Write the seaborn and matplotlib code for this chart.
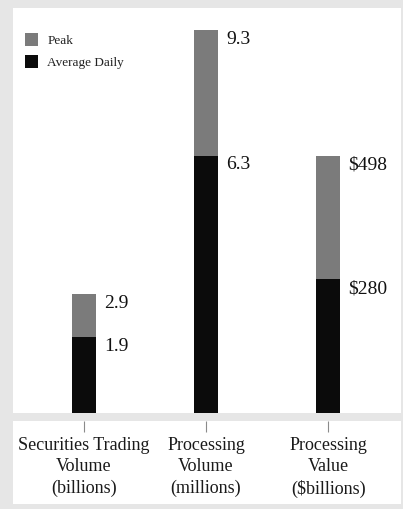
import matplotlib
matplotlib.use("Agg")
import matplotlib.pyplot as plt
import seaborn as sns
import pandas as pd

# ---- data ----
categories = ["Securities Trading\nVolume\n(billions)",
              "Processing\nVolume\n(millions)",
              "Processing\nValue\n(\\$billions)"]
peak_labels = ["2.9", "9.3", "\\$498"]
avg_labels = ["1.9", "6.3", "\\$280"]
# bar lengths on the shared drawing scale (third bar uses its own unit)
peak_height = [2.9, 9.3, 6.25]
avg_height = [1.85, 6.25, 3.25]

W, H = 403, 510
PEAK_COLOR = "#7b7b7b"
AVG_COLOR = "#0b0b0b"
BG = "#e6e6e6"
FONT = "Liberation Serif"

sns.set_theme(style="white")
plt.rcParams["font.family"] = [FONT, "DejaVu Serif"]

fig = plt.figure(figsize=(W / 100, H / 100), dpi=100, facecolor=BG)

def px_axes(x0, y0, x1, y1):
    return fig.add_axes([x0 / W, 1 - y1 / H, (x1 - x0) / W, (y1 - y0) / H])

ax = px_axes(13, 9, 401, 414)
ax.set_facecolor("white")

df = pd.DataFrame({"cat": categories, "peak": peak_height, "avg": avg_height})
bw = 0.197
sns.barplot(data=df, x="cat", y="peak", color=PEAK_COLOR, width=bw,
            saturation=1, label="Peak", ax=ax, order=categories,
            linewidth=0, edgecolor=PEAK_COLOR)
sns.barplot(data=df, x="cat", y="avg", color=AVG_COLOR, width=bw,
            saturation=1, label="Average Daily", ax=ax, order=categories,
            linewidth=0, edgecolor=AVG_COLOR)

xl = (-(83.7 - 13) / 122.0, 2 + (401 - 328.3) / 122.0)
ax.set_xlim(*xl)
ax.set_ylim(0, 405 / 41.2)
ax.set_xticks([])
ax.set_yticks([])
ax.set_xlabel("")
ax.set_ylabel("")
for s in ax.spines.values():
    s.set_visible(False)

for i in range(len(categories)):
    ax.annotate(peak_labels[i], xy=(i + bw / 2, peak_height[i]),
                xytext=(6, 0), textcoords="offset points",
                ha="left", va="top", fontsize=14, color="#111111")
    ax.annotate(avg_labels[i], xy=(i + bw / 2, avg_height[i]),
                xytext=(6, 0), textcoords="offset points",
                ha="left", va="top", fontsize=14, color="#111111")

leg = ax.legend(loc="upper left", bbox_to_anchor=(25 / W, 1 - 32 / H),
                bbox_transform=fig.transFigure, frameon=False,
                fontsize=9.5, handlelength=1.0, handleheight=1.35,
                handletextpad=0.7, labelspacing=0.55, borderpad=0,
                borderaxespad=0)
for t in leg.get_texts():
    t.set_color("#222222")
for p in leg.get_patches():
    p.set_width(13 * 72 / 100)
    p.set_height(13 * 72 / 100)

# ---- label panel ----
ax2 = px_axes(13, 422, 401, 505)
ax2.set_facecolor("white")
ax2.set_xlim(*xl)
ax2.set_ylim(83, 0)
ax2.set_yticks([])
ax2.set_xticks(range(len(categories)))
ax2.tick_params(axis="x", top=True, bottom=False, direction="in",
                length=8, width=0.8, color="#8a8a8a",
                labeltop=False, labelbottom=False)
for s in ax2.spines.values():
    s.set_visible(False)
for i, c in enumerate(categories):
    ax2.text(i, 15, c, ha="center", va="top", fontsize=13,
             linespacing=1.32, color="#1a1a1a")

fig.savefig("out.png", dpi=100, facecolor=BG)
